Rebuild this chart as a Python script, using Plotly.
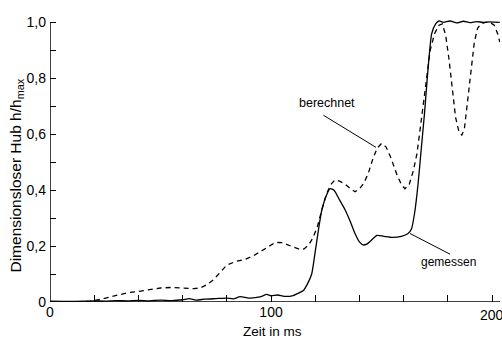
import plotly.graph_objects as go

# Zeitachse in ms und dimensionsloser Hub h/h_max
t_gemessen = [0, 10, 20, 25, 30, 35, 40, 45, 50, 55, 60, 63, 66, 70, 75, 80, 83, 86, 90, 95,
              98, 100, 103, 106, 110, 112, 114.5, 116.5, 118.4, 120, 121.5, 123, 125, 126.7,
              128.5, 131, 133.5, 136, 138, 140, 141.8, 143.5, 145.5, 148, 151, 155, 159, 162,
              163.5, 165, 166.5, 168, 169.5, 171, 172.7, 174.5, 176, 178, 181, 184, 187, 190,
              193, 196, 199, 203.5]
h_gemessen = [0.003, 0.002, 0.004, 0.003, 0.005, 0.004, 0.006, 0.004, 0.007, 0.005, 0.008,
              0.012, 0.007, 0.010, 0.012, 0.014, 0.011, 0.019, 0.014, 0.018, 0.027, 0.022,
              0.025, 0.020, 0.023, 0.030, 0.04, 0.065, 0.10, 0.18, 0.26, 0.33, 0.38, 0.405,
              0.40, 0.365, 0.33, 0.285, 0.245, 0.215, 0.204, 0.208, 0.222, 0.238, 0.235,
              0.231, 0.235, 0.245, 0.26, 0.32, 0.42, 0.55, 0.68, 0.83, 0.96, 0.995, 1.005,
              1.0, 1.005, 0.998, 1.004, 0.999, 1.003, 1.0, 1.002, 1.0]

t_berechnet = [0, 10, 18, 22, 26, 30, 35, 40, 45, 50, 55, 60, 65, 68, 71, 74, 77, 80, 84, 88,
               92, 96, 100, 102, 105, 108, 111, 113, 115, 117, 119, 121, 123, 125, 127, 129,
               131, 133.5, 136, 138, 140, 142, 144, 146, 148, 150, 152, 154, 157, 159, 160.6,
               162.5, 164.4, 166, 167.5, 169, 170.5, 172, 174, 176, 177.5, 179, 180.5, 182,
               183.5, 185, 186.3, 187.5, 189, 190.5, 192, 193.5, 195, 197, 199, 201, 202.5,
               203.5]
h_berechnet = [0, 0, 0.002, 0.008, 0.016, 0.024, 0.033, 0.038, 0.044, 0.05, 0.052, 0.05,
               0.048, 0.05, 0.062, 0.08, 0.105, 0.132, 0.145, 0.152, 0.165, 0.185, 0.205,
               0.213, 0.212, 0.203, 0.192, 0.188, 0.19, 0.204, 0.23, 0.27, 0.33, 0.385, 0.42,
               0.437, 0.432, 0.422, 0.405, 0.394, 0.405, 0.425, 0.46, 0.51, 0.55, 0.567,
               0.555, 0.52, 0.455, 0.42, 0.405, 0.42, 0.47, 0.53, 0.62, 0.72, 0.82, 0.9,
               0.96, 0.99, 0.995, 0.955, 0.87, 0.76, 0.66, 0.61, 0.596, 0.62, 0.72, 0.83,
               0.93, 0.98, 0.995, 1.0, 1.0, 0.99, 0.96, 0.93]

x_tickvals = [0, 20, 40, 60, 80, 100, 120, 140, 160, 180, 200]
x_ticktext = ["0", "", "", "", "", "100", "", "", "", "", ""]
x_edge_label = "200"
y_tickvals = [0, 0.1, 0.2, 0.3, 0.4, 0.5, 0.6, 0.7, 0.8, 0.9, 1.0]
y_ticktext = ["0", "", "0,2", "", "0,4", "", "0,6", "", "0,8", "", "1,0"]

X_MAX = 203.6
Y_MAX = 1.03
FONT = "Liberation Sans, Arial, sans-serif"

fig = go.Figure()
fig.add_trace(go.Scatter(x=t_berechnet, y=h_berechnet, mode="lines",
                         line=dict(color="black", width=1.3, dash="5px,4px"),
                         showlegend=False, hoverinfo="skip"))
fig.add_trace(go.Scatter(x=t_gemessen, y=h_gemessen, mode="lines",
                         line=dict(color="black", width=1.3, shape="spline", smoothing=0.6),
                         showlegend=False, hoverinfo="skip"))

# Achsenlinien
fig.add_shape(type="line", xref="x", yref="y", x0=0, x1=0, y0=0, y1=1.0,
              line=dict(color="black", width=1.5))
fig.add_shape(type="line", xref="x", yref="y", x0=0, x1=X_MAX, y0=0, y1=0,
              line=dict(color="black", width=1.5))

# Letzte Teilstrich-Beschriftung am rechten Rand (darf angeschnitten sein)
fig.add_annotation(x=200, y=0, yanchor="top", yshift=-3, text=x_edge_label,
                   showarrow=False, font=dict(family=FONT, size=14, color="black"))

# Beschriftungen mit Hinweislinien
fig.add_shape(type="line", xref="x", yref="y", x0=123.7, y0=0.668, x1=147.5, y1=0.553,
              line=dict(color="black", width=1))
fig.add_annotation(x=125.3, y=0.711, text="berechnet", showarrow=False,
                   font=dict(family=FONT, size=12.5, color="black"))
fig.add_shape(type="line", xref="x", yref="y", x0=162.9, y0=0.245, x1=181, y1=0.171,
              line=dict(color="black", width=1))
fig.add_annotation(x=180.5, y=0.143, text="gemessen", showarrow=False,
                   font=dict(family=FONT, size=12, color="black"))

# Achsentitel
fig.add_annotation(xref="paper", yref="paper", x=-0.075, y=0.44, xanchor="center",
                   yanchor="middle", textangle=-90, showarrow=False,
                   text="Dimensionsloser Hub h/h<sub>max</sub>",
                   font=dict(family=FONT, size=15.5, color="black"))
fig.add_annotation(xref="paper", yref="paper", x=0.494, y=-0.102, xanchor="center",
                   yanchor="middle", showarrow=False, text="Zeit in ms",
                   font=dict(family=FONT, size=13.5, color="black"))

fig.update_layout(
    width=502, height=338,
    margin=dict(l=50, r=2, t=14, b=36),
    paper_bgcolor="white", plot_bgcolor="white",
    font=dict(family=FONT, size=14, color="black"),
    xaxis=dict(range=[0, X_MAX], tickvals=x_tickvals, ticktext=x_ticktext,
               ticks="inside", ticklen=7, tickwidth=1, tickcolor="black",
               showgrid=False, zeroline=False, showline=False),
    yaxis=dict(range=[0, Y_MAX], tickvals=y_tickvals, ticktext=y_ticktext,
               ticks="inside", ticklen=6, tickwidth=1, tickcolor="black",
               ticklabelstandoff=3,
               showgrid=False, zeroline=False, showline=False),
)

fig.write_html("out.html")
